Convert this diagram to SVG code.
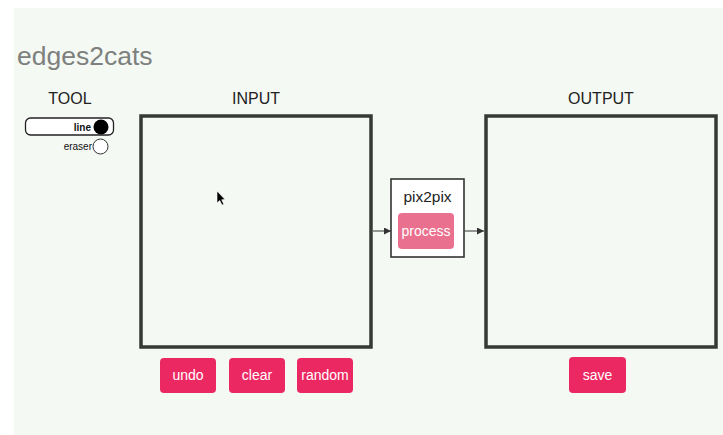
<svg xmlns="http://www.w3.org/2000/svg" width="723" height="435" viewBox="0 0 723 435">
  <defs>
    <marker id="arrow" viewBox="0 0 8 8" refX="8" refY="4" markerWidth="7" markerHeight="7" markerUnits="userSpaceOnUse" orient="auto">
      <path d="M0,0 L8,4 L0,8 Z" fill="#333"/>
    </marker>
  </defs>
  <style>
    text { font-family: "Liberation Sans", Arial, Helvetica, sans-serif; }
    .title { font-size: 26.5px; fill: #7d807d; }
    .heading { font-size: 16px; fill: #222; text-anchor: middle; }
    .canvas { fill: none; stroke: #353a35; stroke-width: 3.5; }
    .btn { fill: #ec2862; }
    .btn-soft { fill: #e9708e; }
    .btn-label { font-size: 14px; fill: #ffffff; text-anchor: middle; }
    .edge { stroke: #333; stroke-width: 1; fill: none; }
  </style>

  <!-- page background -->
  <rect x="0" y="0" width="723" height="435" fill="#ffffff"/>
  <rect x="14" y="8" width="709" height="427" fill="#f4f9f4"/>

  <text class="title" x="17" y="65">edges2cats</text>

  <!-- tool selector -->
  <g id="tool">
    <text class="heading" x="70" y="104">TOOL</text>
    <rect x="25.5" y="118" width="88" height="17" rx="5" fill="#ffffff" stroke="#222" stroke-width="1.3"/>
    <text x="91" y="130.5" font-size="10" font-weight="bold" text-anchor="end" fill="#111">line</text>
    <circle cx="101" cy="127" r="7.5" fill="#000"/>
    <text x="92" y="150" font-size="10" text-anchor="end" fill="#111">eraser</text>
    <circle cx="100.5" cy="146.5" r="7.5" fill="#ffffff" stroke="#333" stroke-width="1"/>
  </g>

  <!-- input canvas -->
  <g id="input">
    <text class="heading" x="256" y="104">INPUT</text>
    <rect class="canvas" x="141" y="116" width="230" height="231"/>
    <!-- mouse pointer -->
    <path d="M217,191 L217,203 L219.8,200.5 L222,205 L223.8,204.2 L221.7,199.8 L225,199.5 Z" fill="#000" stroke="#fff" stroke-width="0.6"/>
  </g>

  <!-- pix2pix model -->
  <g id="pix2pix">
    <rect x="391" y="179" width="73" height="78" fill="#ffffff" stroke="#333" stroke-width="1.6"/>
    <text x="427.5" y="201.5" font-size="15.5" text-anchor="middle" fill="#222">pix2pix</text>
    <rect class="btn-soft" x="398" y="213" width="56" height="36" rx="4"/>
    <text class="btn-label" x="426" y="235.5">process</text>
  </g>

  <!-- output canvas -->
  <g id="output">
    <text class="heading" x="601" y="103.5">OUTPUT</text>
    <rect class="canvas" x="486" y="116" width="230" height="231"/>
  </g>

  <!-- connectors -->
  <g id="connectors">
    <line class="edge" x1="373" y1="231" x2="391" y2="231" marker-end="url(#arrow)"/>
    <line class="edge" x1="464.5" y1="231" x2="484" y2="231" marker-end="url(#arrow)"/>
  </g>

  <!-- buttons -->
  <g id="btn-undo">
    <rect class="btn" x="160" y="358" width="56" height="35" rx="4"/>
    <text class="btn-label" x="188" y="380">undo</text>
  </g>
  <g id="btn-clear">
    <rect class="btn" x="229" y="358" width="56" height="35" rx="4"/>
    <text class="btn-label" x="257" y="380">clear</text>
  </g>
  <g id="btn-random">
    <rect class="btn" x="297" y="358" width="56" height="35" rx="4"/>
    <text class="btn-label" x="325" y="380">random</text>
  </g>
  <g id="btn-save">
    <rect class="btn" x="569" y="357" width="57" height="36" rx="4"/>
    <text class="btn-label" x="597.5" y="380">save</text>
  </g>
</svg>
